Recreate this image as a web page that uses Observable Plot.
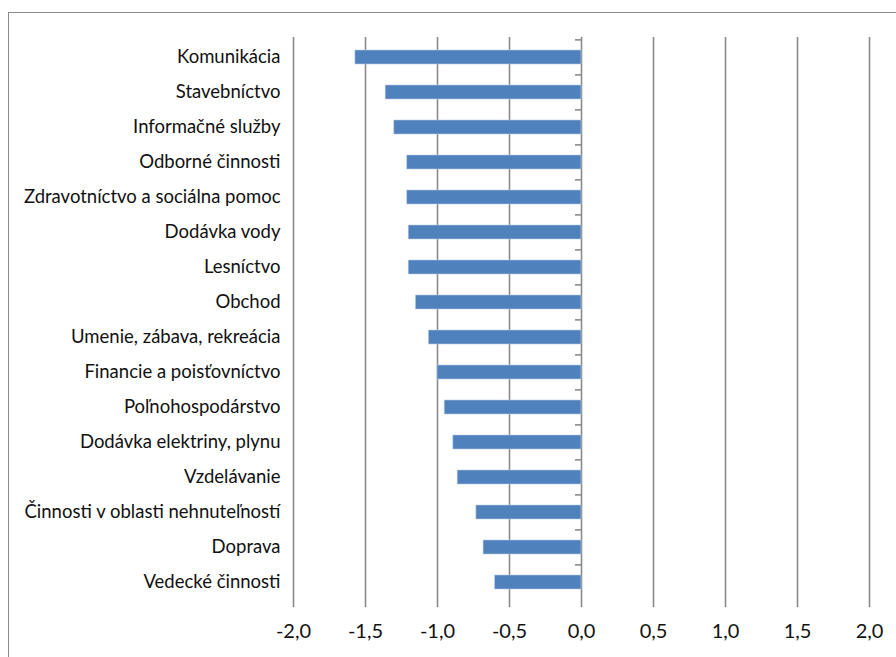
<!DOCTYPE html>
<html>
<head>
<meta charset="utf-8">
<script src="https://cdn.jsdelivr.net/npm/d3@7"></script>
<script src="https://cdn.jsdelivr.net/npm/@observablehq/plot@0.6"></script>
<style>
  html, body { margin: 0; padding: 0; background: #fff; overflow: hidden; }
  #wrap { position: relative; width: 896px; height: 657px; overflow: hidden; }
  #frame { position: absolute; left: 8px; top: 12px; width: 1000px; height: 1000px; border: 1.5px solid #8a8a8a; box-sizing: border-box; }
  #chart { position: absolute; left: 0; top: 0; }
</style>
</head>
<body>
<div id="wrap"><div id="frame"></div><div id="chart"></div></div>
<script>
const categories = [
  "Komunikácia",
  "Stavebníctvo",
  "Informačné služby",
  "Odborné činnosti",
  "Zdravotníctvo a sociálna pomoc",
  "Dodávka vody",
  "Lesníctvo",
  "Obchod",
  "Umenie, zábava, rekreácia",
  "Financie a poisťovníctvo",
  "Poľnohospodárstvo",
  "Dodávka elektriny, plynu",
  "Vzdelávanie",
  "Činnosti v oblasti nehnuteľností",
  "Doprava",
  "Vedecké činnosti"
];
const values = [-1.57, -1.36, -1.30, -1.21, -1.21, -1.20, -1.20, -1.15, -1.06, -1.00, -0.95, -0.89, -0.86, -0.73, -0.68, -0.60];
const xTicks = [-2, -1.5, -1, -0.5, 0, 0.5, 1, 1.5, 2];

const data = categories.map((c, i) => ({category: c, value: values[i]}));

const W = 896, H = 657;
const mTop = 37, mBottom = 56, mLeft = 293, mRight = 27;
const step = (H - mTop - mBottom) / categories.length;
const grey = "#8a8a8a";

const plot = Plot.plot({
  width: W,
  height: H,
  marginTop: mTop,
  marginBottom: mBottom,
  marginLeft: mLeft,
  marginRight: mRight,
  style: {fontFamily: "Lato, sans-serif", background: "transparent"},
  x: {domain: [-2, 2], ticks: xTicks},
  y: {domain: categories, paddingInner: 0.6, paddingOuter: 0.3},
  marks: [
    Plot.ruleX(xTicks, {stroke: grey, strokeWidth: 1.6}),
    Plot.barX(data, {x1: 0, x2: "value", y: "category", fill: "#4F81BD", stroke: "#b9cde5", strokeWidth: 0.6}),
    Plot.ruleY(categories, {y: d => d, x1: 0, x2: 0, insetLeft: -6, dy: -step / 2, stroke: grey, strokeWidth: 1.6}),
    Plot.ruleY([0], {frameAnchor: "bottom", stroke: grey, strokeWidth: 1.6}),
    Plot.axisX({
      ticks: xTicks,
      tickSize: 6,
      stroke: grey,
      strokeWidth: 1.6,
      strokeOpacity: 1,
      tickPadding: 16,
      fontSize: 20,
      fill: "#111",
      tickFormat: d => d.toFixed(1).replace(".", ","),
      label: null
    }),
    Plot.axisY({
      tickSize: 0,
      tickPadding: 13,
      fontSize: 18.5,
      fill: "#111",
      label: null
    })
  ]
});
document.getElementById("chart").appendChild(plot);
</script>
</body>
</html>
